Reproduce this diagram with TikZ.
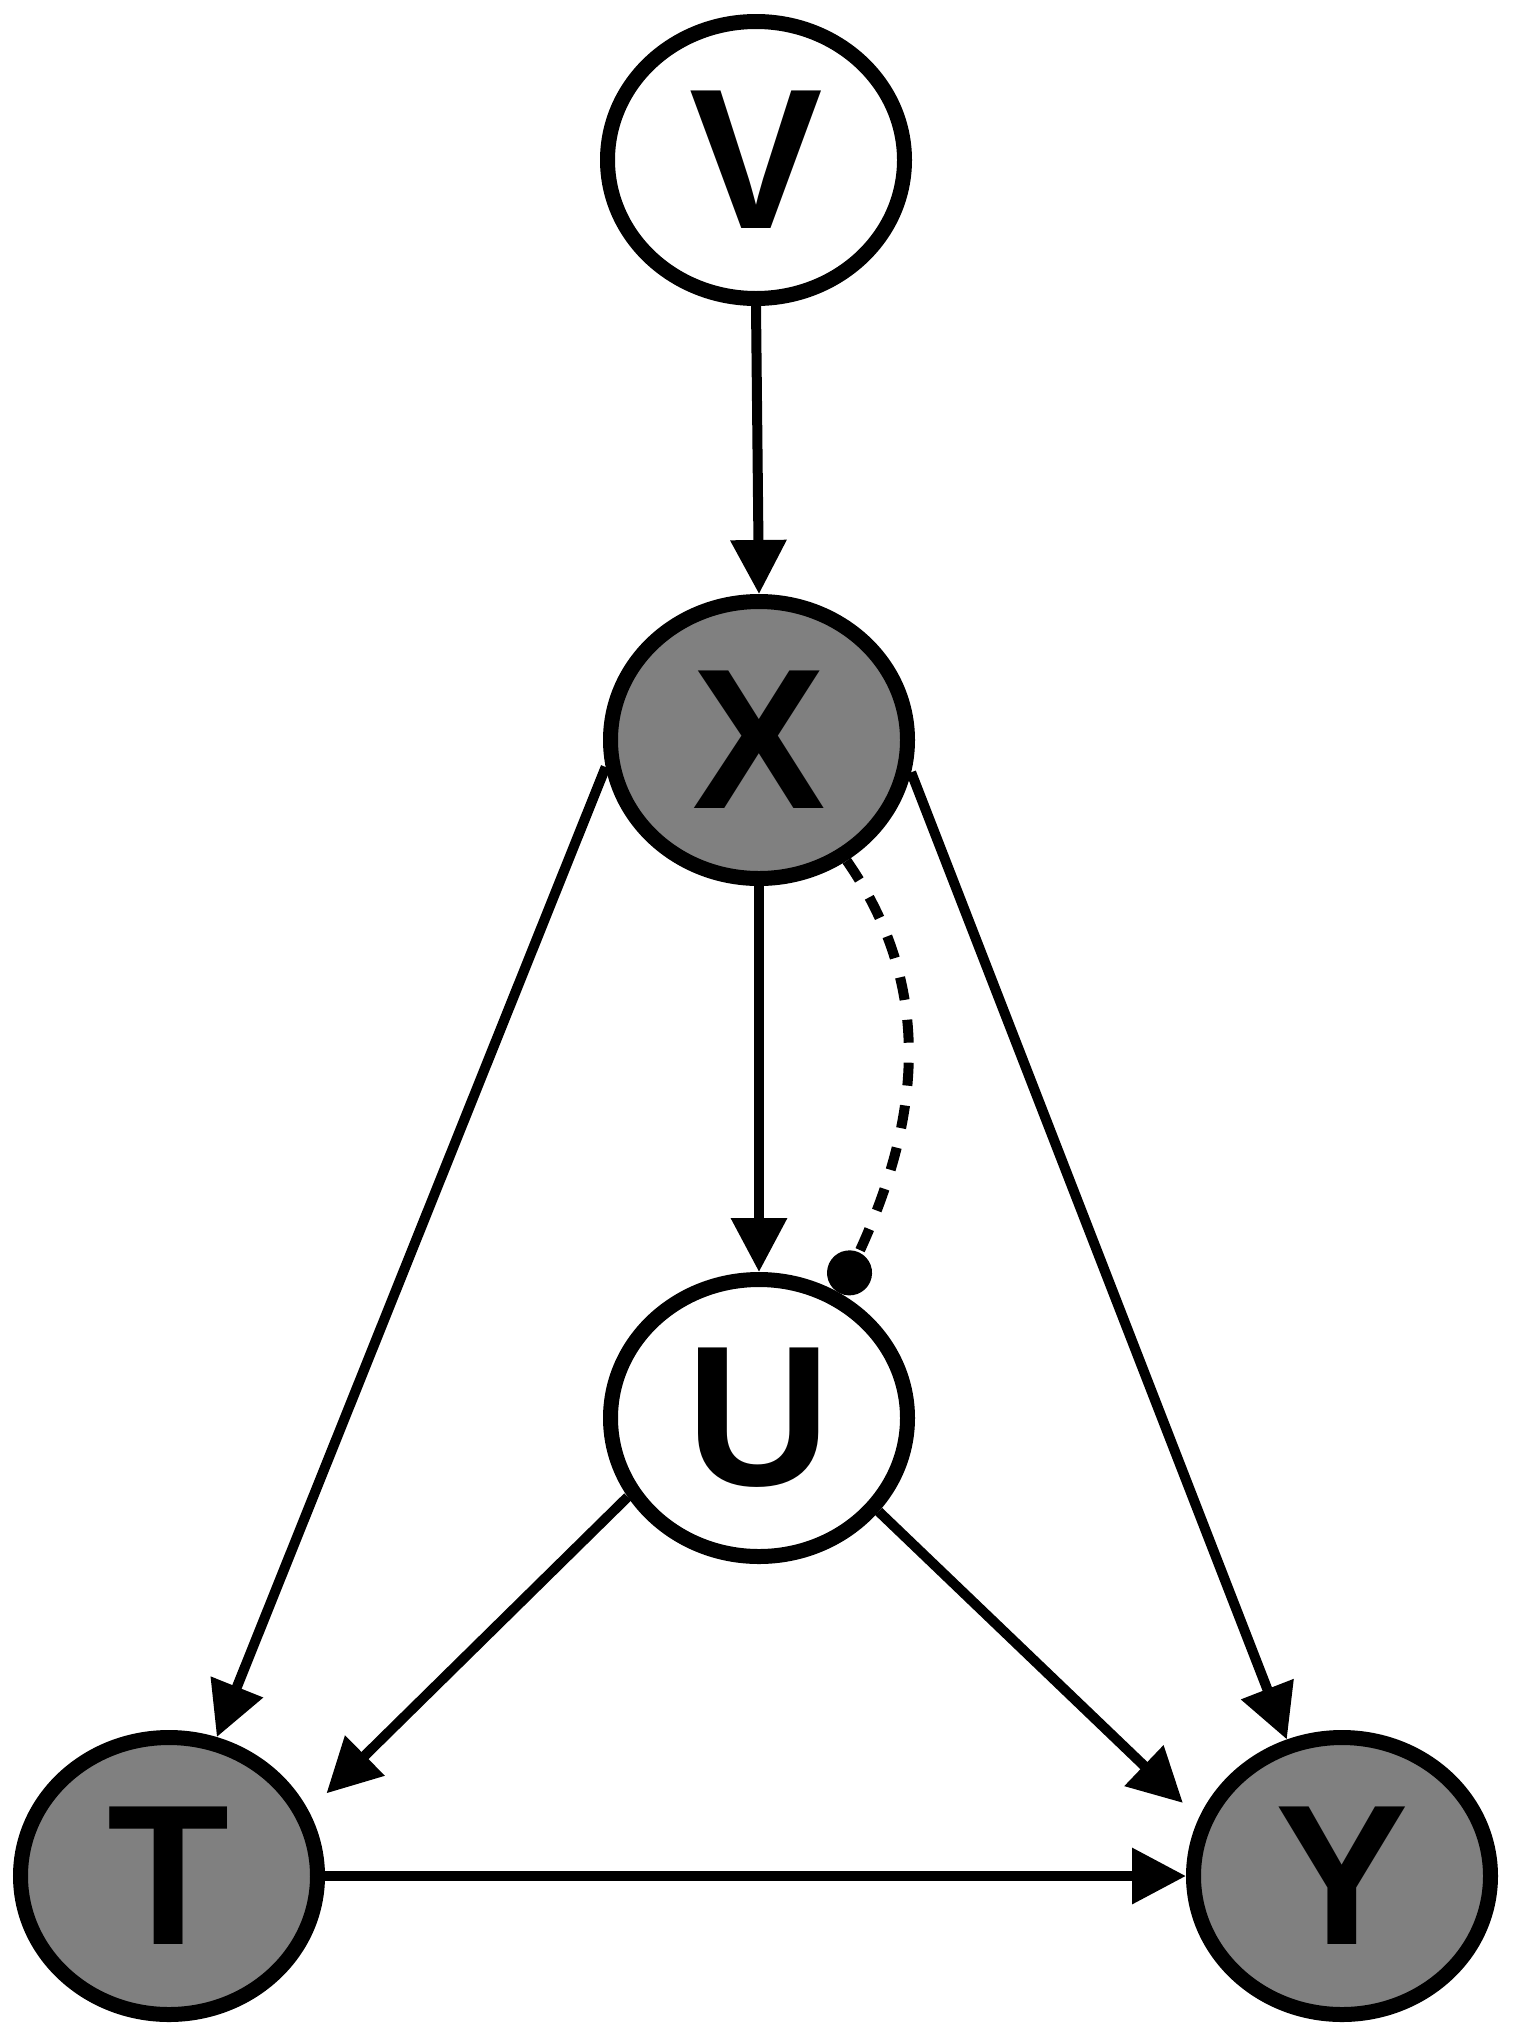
\documentclass[tikz,border=0pt]{standalone}
\usepackage{fontspec}
\setmainfont{Liberation Sans}
\usetikzlibrary{arrows.meta,shapes.geometric}
\definecolor{nodegray}{RGB}{128,128,128}
\begin{document}
\begin{tikzpicture}[x=0.5pt,y=-0.5pt,
  var/.style={ellipse,draw,line width=7.5pt,minimum width=148.5pt,minimum height=138.5pt,inner sep=0pt,font=\fontsize{100pt}{100pt}\selectfont\bfseries},
  obs/.style={var,fill=nodegray},
  lat/.style={var,fill=white},
  edge/.style={line width=5pt,-{Triangle[length=27pt,width=27pt]}},
  conf/.style={line width=5pt,dash pattern=on 11.5pt off 10pt,-{Circle[length=22.5pt]}}]
\useasboundingbox (0,0) rectangle (1513,2040);
\node[lat] (V) at (756,160) {V};
\node[obs] (X) at (759,740) {X};
\node[lat] (U) at (759,1418) {U};
\node[obs] (T) at (169,1876) {T};
\node[obs] (Y) at (1342,1876) {Y};
\draw[edge] (V.south) -- (X.north);
\draw[edge] (X.south) -- (U.north);
\draw[edge] (X.190) -- (T.71);
\draw[edge] (X.348) -- (Y.112);
\draw[edge,shorten >=12.5pt] (U.211) -- (T.25);
\draw[edge,shorten >=11pt] (U.322) -- (Y.158);
\draw[edge] (T.east) -- (Y.west);
\draw[conf] (X.306) .. controls (943,999) and (912,1139) .. (U.57);
\end{tikzpicture}
\end{document}
